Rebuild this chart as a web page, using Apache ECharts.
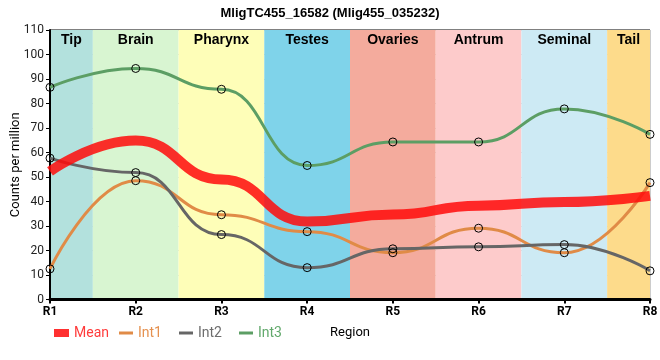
<!DOCTYPE html>
<html><head><meta charset="utf-8">
<script src="https://cdn.jsdelivr.net/npm/echarts@6/dist/echarts.min.js"></script>
<style>html,body{margin:0;padding:0;background:#fff}#c{width:660px;height:360px}</style>
</head><body><div id="c"></div>
<script>
const regions = ["R1","R2","R3","R4","R5","R6","R7","R8"];
const tissues = ["Tip","Brain","Pharynx","Testes","Ovaries","Antrum","Seminal","Tail"];
const tissueColors = ["#b3e1dd","#d8f5d1","#fefeb8","#7fd3ea","#f4ab9d","#fdcbcb","#cdeaf4","#fddb8b"];
const int1 = [12.5, 48.5, 34.6, 27.7, 19.1, 29.1, 19.1, 47.7];
const int2 = [57.7, 51.8, 26.5, 13.0, 20.7, 21.5, 22.4, 11.7];
const int3 = [86.6, 94.3, 85.8, 54.7, 64.3, 64.3, 77.8, 67.4];
const meanVals = [52.3, 64.9, 49.0, 31.8, 34.7, 38.3, 39.8, 42.3];
const yTicks = {min: 0, max: 110, interval: 10};

const xs = regions.map((r,i)=>i+1);
const pts = arr => arr.map((v,i)=>[xs[i], v]);

const bands = tissues.map((t,i)=>{
  const a = Math.max(1, i+0.5), b = Math.min(8, i+1.5);
  return [{name:t, xAxis:a, itemStyle:{color:tissueColors[i]}}, {xAxis:b}];
});

const chart = echarts.init(document.getElementById('c'), null, {renderer:'canvas'});
const lineSeries = (name, data, color) => ({
  name, type:'line', data: pts(data), smooth:0.5, smoothMonotone:'x',
  symbol:'circle', symbolSize:8, showSymbol:true,
  lineStyle:{color, width:3}, itemStyle:{color:'rgba(0,0,0,0)', borderColor:'#000', borderWidth:1},
  z:3
});
chart.setOption({
  animation:false,
  title:{text:'MligTC455_16582 (Mlig455_035232)', left:'center', top:2,
    textStyle:{fontSize:13, fontWeight:'bold', color:'#000', fontFamily:'Liberation Sans'}},
  grid:{left:50, right:10, top:30, bottom:60.5, outerBoundsMode:'none', containLabel:false,
    show:true, borderColor:'#000', borderWidth:1, backgroundColor:'transparent'},
  legend:[
    {data:[{name:'Mean', icon:'rect', itemStyle:{color:'#ff3030', borderWidth:0}, textStyle:{color:'#ff3b3b'}}],
      left:49, top:321, itemWidth:15, itemHeight:8, textStyle:{fontSize:14, fontFamily:'Roboto'}},
    {data:[{name:'Int1', icon:'rect', itemStyle:{color:'#e08b47', borderWidth:0}, textStyle:{color:'#e59150'}},
           {name:'Int2', icon:'rect', itemStyle:{color:'#666666', borderWidth:0}, textStyle:{color:'#6d6d6d'}},
           {name:'Int3', icon:'rect', itemStyle:{color:'#5c9e64', borderWidth:0}, textStyle:{color:'#62a96c'}}],
      left:114, top:321, itemWidth:14, itemHeight:3, itemGap:17, textStyle:{fontSize:14, fontFamily:'Roboto'}}
  ],
  xAxis:{type:'value', min:1, max:8, interval:1,
    name:'Region', nameLocation:'middle', nameGap:27, nameMoveOverlap:false,
    nameTextStyle:{fontSize:13, color:'#000', fontFamily:'Roboto'},
    axisLine:{lineStyle:{color:'#000', width:3}},
    axisTick:{show:true, length:4, lineStyle:{color:'#000', width:2}},
    axisLabel:{formatter:v=>'R'+v, fontWeight:'bold', fontSize:12, color:'#000', margin:6, fontFamily:'Roboto'},
    splitLine:{show:true, lineStyle:{color:'#cccccc', width:1}}},
  yAxis:{type:'value', min:yTicks.min, max:yTicks.max, interval:yTicks.interval,
    name:'Counts per million', nameLocation:'middle', nameGap:28, nameMoveOverlap:false,
    nameTextStyle:{fontSize:13, color:'#000', fontFamily:'Roboto'},
    axisLine:{show:true, lineStyle:{color:'#000', width:2}},
    axisTick:{show:true, length:4, lineStyle:{color:'#000'}},
    axisLabel:{fontSize:12, color:'#222', margin:6, fontFamily:'Roboto'},
    splitLine:{show:true, lineStyle:{color:'#cccccc', width:1}}},
  series:[
    {name:'Bands', type:'line', data:[], silent:true, z:0,
      markArea:{silent:true, z:0, data:bands,
        label:{show:true, position:'insideTop', distance:3, fontWeight:'bold', fontSize:14, color:'#000', fontFamily:'Liberation Sans'}}},
    lineSeries('Int1', int1, '#e08b47'),
    lineSeries('Int2', int2, '#666666'),
    lineSeries('Int3', int3, '#5c9e64'),
    {name:'Mean', type:'line', data:pts(meanVals), smooth:0.5, smoothMonotone:'x', showSymbol:false, symbol:'none',
      lineStyle:{color:'#ff0a0a', width:10, opacity:0.85}, itemStyle:{color:'#ff3030'}, z:4}
  ]
});
</script></body></html>
